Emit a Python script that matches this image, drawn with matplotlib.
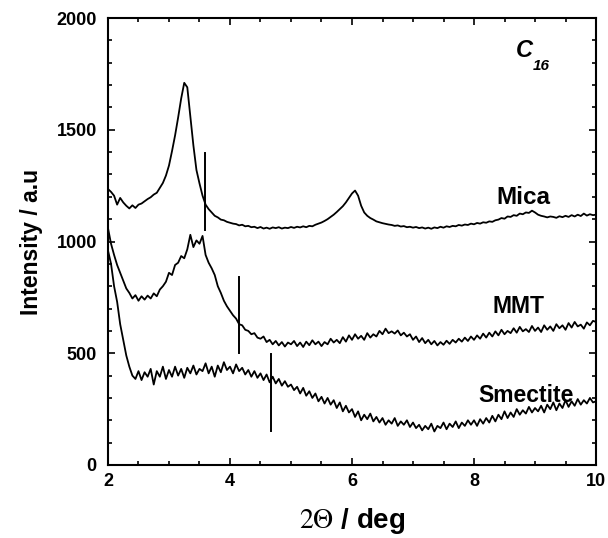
import numpy as np
import matplotlib
matplotlib.use("Agg")
import matplotlib.pyplot as plt
from matplotlib.ticker import MultipleLocator

plt.rcParams['font.family'] = ['Liberation Sans', 'DejaVu Sans']
plt.rcParams['mathtext.fontset'] = 'stix'

# scan angle grid, 2 .. 10 deg in 0.05 steps
two_theta = np.linspace(2.0, 10.0, 161)

# intensities (one row per degree)
mica = [
    1235, 1222, 1205, 1165, 1195, 1175, 1160, 1148, 1162, 1150, 1165, 1170, 1180, 1190, 1198, 1210, 1218, 1240, 1262, 1295,
    1340, 1405, 1475, 1555, 1640, 1710, 1690, 1560, 1430, 1320, 1260, 1205, 1165, 1145, 1130, 1115, 1108, 1098, 1095, 1088,
    1084, 1080, 1078, 1072, 1075, 1068, 1070, 1064, 1066, 1060, 1065, 1058, 1062, 1057, 1063, 1060, 1064, 1058, 1062, 1060,
    1065, 1061, 1066, 1063, 1068, 1064, 1070, 1068, 1075, 1080, 1085, 1092, 1100, 1110, 1120, 1132, 1145, 1158, 1175, 1195,
    1215, 1228, 1205, 1160, 1130, 1115, 1105, 1098, 1090, 1086, 1082, 1079, 1076, 1074, 1070, 1072, 1067, 1069, 1064, 1066,
    1062, 1065, 1060, 1063, 1058, 1062, 1057, 1063, 1060, 1066, 1062, 1068, 1065, 1070, 1068, 1074, 1071, 1076, 1074, 1080,
    1077, 1083, 1080, 1086, 1084, 1090, 1088, 1095, 1098, 1105, 1102, 1112, 1110, 1118, 1115, 1125, 1122, 1130, 1128, 1138,
    1130, 1120, 1115, 1112, 1108, 1112, 1110, 1106, 1113, 1109, 1115, 1110, 1118, 1112, 1120, 1114, 1125, 1116, 1122, 1118,
    1120,
]

mmt = [
    1060, 990, 940, 895, 860, 825, 790, 770, 745, 760, 735, 755, 740, 758, 745, 768, 755, 785, 800, 820,
    860, 850, 895, 905, 935, 925, 965, 1030, 975, 1005, 990, 1025, 940, 905, 880, 850, 800, 770, 735, 710,
    690, 670, 655, 630, 625, 605, 600, 585, 590, 570, 565, 575, 550, 560, 540, 555, 535, 550, 530, 548,
    540, 555, 532, 548, 528, 552, 536, 558, 540, 552, 532, 550, 540, 565, 548, 560, 545, 572, 552, 580,
    560, 585, 565, 578, 560, 590, 570, 585, 575, 600, 585, 610, 590, 598, 588, 602, 580, 592, 575, 585,
    560, 575, 550, 568, 545, 560, 540, 555, 535, 550, 538, 556, 542, 560, 548, 565, 552, 570, 555, 575,
    560, 580, 565, 588, 570, 592, 575, 598, 580, 605, 585, 600, 590, 612, 592, 618, 598, 608, 595, 622,
    600, 615, 595, 625, 605, 620, 600, 630, 612, 625, 605, 635, 615, 640, 620, 628, 610, 638, 625, 645,
    640,
]

smectite = [
    960, 900, 800, 730, 630, 560, 490, 440, 400, 385, 420, 380, 415, 395, 430, 360, 420, 395, 440, 385,
    425, 395, 440, 400, 430, 390, 435, 410, 445, 405, 430, 420, 455, 410, 440, 395, 445, 415, 460, 425,
    440, 410, 450, 420, 435, 405, 425, 395, 420, 390, 410, 380, 405, 370, 395, 365, 385, 355, 375, 350,
    360, 335, 350, 320, 345, 310, 330, 300, 320, 285, 305, 275, 300, 270, 290, 255, 280, 240, 265, 235,
    250, 215, 240, 200, 225, 205, 230, 195, 215, 190, 210, 180, 200, 185, 210, 175, 195, 180, 200, 170,
    190, 165, 180, 155, 175, 160, 185, 150, 175, 165, 190, 160, 185, 170, 195, 165, 190, 175, 200, 180,
    200, 175, 205, 185, 210, 190, 220, 195, 225, 205, 240, 210, 235, 215, 250, 225, 245, 230, 260, 235,
    255, 240, 265, 235, 270, 250, 280, 245, 275, 255, 290, 260, 285, 265, 295, 270, 290, 275, 300, 280,
    285,
]

# vertical marker lines: (position, bottom, top)
markers = [(3.59, 1051, 1396), (4.15, 501, 841), (4.67, 152, 497)]

# curve labels: (text, x, y)
labels = [("Mica", 8.36, 1168), ("MMT", 8.31, 680), ("Smectite", 8.07, 282)]

fig = plt.figure(figsize=(6.08, 5.38), dpi=100)
ax = fig.add_axes([0.1776, 0.1357, 0.8027, 0.8308])

for y in (mica, mmt, smectite):
    ax.plot(two_theta, y, color='black', lw=1.3)

for xm, y0, y1 in markers:
    ax.plot([xm, xm], [y0, y1], color='black', lw=1.4)

for txt, tx, ty in labels:
    sz = 17.5 if txt == "Mica" else 16.5
    ax.text(tx, ty, txt, fontsize=sz, fontweight='bold', ha='left', va='baseline')

ax.text(8.68, 1825, "C", fontsize=17, fontweight='bold', fontstyle='italic', va='baseline')
ax.text(8.97, 1767, "16", fontsize=11, fontweight='bold', fontstyle='italic', va='baseline')

ax.set_xlim(2, 10)
ax.set_ylim(0, 2000)
ax.xaxis.set_major_locator(MultipleLocator(2))
ax.xaxis.set_minor_locator(MultipleLocator(0.5))
ax.yaxis.set_major_locator(MultipleLocator(500))
ax.yaxis.set_minor_locator(MultipleLocator(100))
ax.tick_params(which='both', direction='in', top=True, right=True, width=1.2)
ax.tick_params(which='major', length=5)
ax.tick_params(which='minor', length=3)
ax.tick_params(axis='y', pad=8)
ax.tick_params(axis='x', pad=6)
for lab in ax.get_xticklabels() + ax.get_yticklabels():
    lab.set_fontweight('bold')
    lab.set_fontsize(13)
for sp in ax.spines.values():
    sp.set_linewidth(1.5)

ax.set_ylabel("Intensity / a.u", fontsize=16.5, fontweight='bold', labelpad=10)
ax.set_xlabel(r"$\mathrm{2\Theta}$ / deg", fontsize=20, fontweight='bold', labelpad=11)

fig.savefig("out.png", dpi=100)
